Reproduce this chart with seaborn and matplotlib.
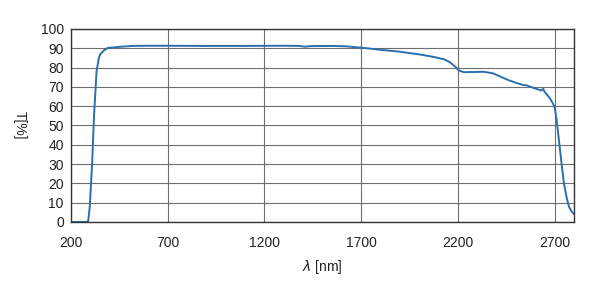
import matplotlib
matplotlib.use("Agg")
import matplotlib.pyplot as plt
import seaborn as sns
import pandas as pd

wavelength = [200, 280, 290, 298, 310, 320, 333, 345, 353, 370, 391, 420, 460, 520, 600,
              700, 900, 1100, 1300, 1380, 1410, 1440, 1550, 1620, 1700, 1800, 1900, 2000,
              2075, 2130, 2160, 2185, 2203, 2229, 2280, 2333, 2380, 2419, 2460, 2505,
              2535, 2557, 2580, 2609, 2630, 2640, 2647, 2660, 2678, 2699, 2709, 2721,
              2735, 2747, 2760, 2773, 2786, 2799]
transmission = [0, 0, 0.5, 8, 30, 55, 78, 85, 87, 88.8, 90.2, 90.4, 90.8, 91.2, 91.3,
                91.3, 91.2, 91.2, 91.3, 91.2, 90.8, 91.1, 91.2, 91.0, 90.3, 89.2, 88.2, 86.8,
                85.5, 84.2, 82.6, 80.5, 78.6, 77.6, 77.7, 77.8, 77.0, 75.3, 73.5, 71.9,
                71.0, 70.7, 69.8, 68.8, 68.1, 69.0, 67.4, 66.0, 63.5, 59.7, 53, 42.5,
                30, 20, 13, 7.9, 5.5, 4.1]

x_ticks = [200, 700, 1200, 1700, 2200, 2700]
y_ticks = list(range(0, 101, 10))

df = pd.DataFrame({"wavelength": wavelength, "T": transmission})

sns.set_theme(style="white")
plt.rcParams['font.family'] = ['Liberation Sans', 'DejaVu Sans']

fig = plt.figure(figsize=(6.0, 2.81), dpi=100)
ax = fig.add_axes([0.118, 0.210, 0.839, 0.687])

sns.lineplot(data=df, x="wavelength", y="T", ax=ax, color="#2b6fae", linewidth=1.4)

ax.set_xlim(200, 2800)
ax.set_ylim(0, 100)
ax.set_xticks(x_ticks)
ax.set_yticks(y_ticks)
ax.grid(True, color="#6e6e6e", linewidth=0.8)
ax.set_axisbelow(True)
for s in ax.spines.values():
    s.set_color("#333333")
    s.set_linewidth(1.0)
ax.tick_params(axis="both", length=0, labelsize=10, colors="#222222", pad=5)
ax.tick_params(axis="x", pad=10)
ax.set_xlabel(r"$\it{\lambda}$ [nm]", fontsize=10, color="#222222", labelpad=6)
ax.set_ylabel("T[%]", fontsize=10, color="#222222", rotation=270, labelpad=20)

fig.savefig("out.png", dpi=100)
